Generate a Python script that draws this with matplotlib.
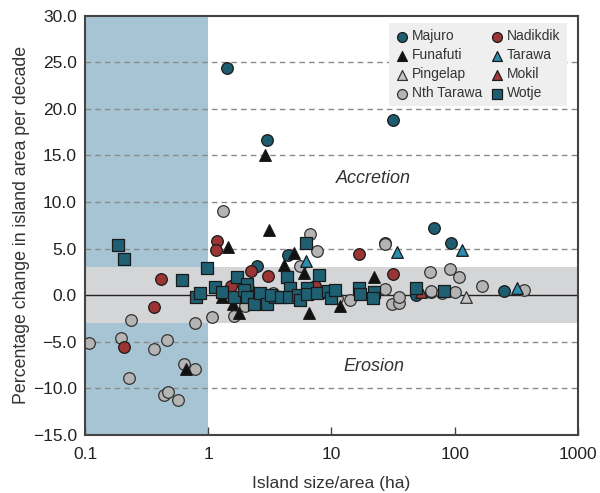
import matplotlib
matplotlib.use("Agg")
import matplotlib.pyplot as plt

plt.rcParams['font.family'] = ['Liberation Sans', 'DejaVu Sans']

# ---- data (island size in ha, % change per decade) ----
majuro_x = [1.42, 3.0, 31.5, 68, 93, 27, 251, 2.47, 4.47, 48.5, 64]
majuro_y = [24.4, 16.7, 18.8, 7.2, 5.6, 5.6, 0.4, 3.15, 4.3, 0.0, 0.3]

nadikdik_x = [1.17, 1.15, 0.41, 0.363, 0.205, 2.21, 3.03, 1.53, 16.8, 31.3, 7.3]
nadikdik_y = [5.8, 4.85, 1.7, -1.3, -5.6, 2.6, 2.1, 1.0, 4.4, 2.25, 1.0]

funafuti_x = [2.89, 3.13, 1.44, 4.99, 4.14, 5.98, 22.1, 6.6, 11.7, 1.6, 1.78, 1.28, 2.25, 8.6, 0.66]
funafuti_y = [15.05, 7.0, 5.2, 4.55, 3.2, 2.4, 1.9, -1.9, -1.2, -1.0, -1.9, -0.2, 0.7, 0.35, -7.9]

tarawa_x = [34.2, 115, 322, 6.2]
tarawa_y = [4.65, 4.9, 0.8, 3.65]

pingelap_x = [123]
pingelap_y = [-0.2]

mokil_x = [53]
mokil_y = [0.3]

nth_tarawa_x = [1.32, 0.235, 0.78, 1.08, 1.61, 1.98, 0.108, 0.197, 0.46, 0.363, 0.63, 0.78,
                0.226, 0.44, 0.47, 0.565, 3.33, 6.7, 7.6, 5.6, 14.1, 11.1, 27.2, 30.8, 27.3,
                35.3, 35.3, 63, 91.5, 109, 166, 64, 79, 100, 369]
nth_tarawa_y = [9.0, -2.7, -3.0, -2.4, -2.25, -1.2, -5.1, -4.55, -4.8, -5.8, -7.35, -7.9,
                -8.85, -10.75, -10.4, -11.3, 0.2, 6.6, 4.75, 3.15, -0.5, -0.35, 0.7, -1.0, 5.5,
                -0.8, -0.2, 2.5, 2.8, 2.0, 1.0, 0.45, 0.2, 0.35, 0.6]

wotje_x = [0.186, 0.206, 0.615, 0.98, 0.80, 0.86, 1.13, 1.29, 1.62, 1.70, 2.07, 1.96, 2.05,
           2.36, 2.63, 3.01, 3.48, 3.23, 3.89, 4.38, 4.58, 4.5, 5.32, 5.5, 6.3, 6.3, 6.2,
           7.96, 7.6, 9.4, 10.0, 10.7, 16.7, 17, 22.1, 21.7, 48.5, 81.8]
wotje_y = [5.4, 3.9, 1.6, 2.9, -0.2, 0.2, 0.9, 0.35, -0.2, 1.9, 1.2, 0.6, -0.2,
           -1.0, 0.2, -0.9, -0.2, 0.0, -0.2, 1.9, 0.8, -0.25, 0.0, -0.5, 0.8, 0.1, 5.55,
           2.2, 0.2, 0.45, -0.35, 0.55, 0.8, 0.1, 0.35, -0.3, 0.8, 0.4]

yticks = [30, 25, 20, 15, 10, 5, 0, -5, -10, -15]
xticks = [0.1, 1, 10, 100, 1000]
xticklabels = ['0.1', '1', '10', '100', '1000']

fig = plt.figure(figsize=(6.0, 4.93), dpi=100)
ax = fig.add_axes([0.142, 0.118, 0.821, 0.850])

ax.set_xscale('log')
ax.set_xlim(0.1, 1000)
ax.set_ylim(-15, 30)

# shading
ax.axvspan(0.1, 1, color='#a7c4d4', zorder=0, lw=0)
ax.axhspan(-3, 3, color='#d4d5d7', zorder=0.5, lw=0)
for yv in [25, 20, 15, 10, 5, -5, -10]:
    ax.axhline(yv, color='#8a8a8a', lw=1.0, ls=(0, (4, 3)), zorder=1)
ax.axhline(0, color='#222222', lw=1.0, zorder=1.2)

s = 70
ec = '#1a1a1a'
lw = 0.9
ax.scatter(majuro_x, majuro_y, s=s, marker='o', c='#1e5d70', edgecolors=ec, linewidths=lw, zorder=3, label='Majuro')
ax.scatter(nth_tarawa_x, nth_tarawa_y, s=s, marker='o', c='#b4b4b4', edgecolors='#333333', linewidths=lw, zorder=3.2, label='Nth Tarawa')
ax.scatter(nadikdik_x, nadikdik_y, s=s, marker='o', c='#9c3434', edgecolors=ec, linewidths=lw, zorder=3.3, label='Nadikdik')
ax.scatter(funafuti_x, funafuti_y, s=s, marker='^', c='#111111', edgecolors=ec, linewidths=lw, zorder=3.4, label='Funafuti')
ax.scatter(tarawa_x, tarawa_y, s=s, marker='^', c='#2a8daa', edgecolors=ec, linewidths=lw, zorder=3.5, label='Tarawa')
ax.scatter(pingelap_x, pingelap_y, s=s, marker='^', c='#c6c6c6', edgecolors='#333333', linewidths=lw, zorder=3.5, label='Pingelap')
ax.scatter(mokil_x, mokil_y, s=s, marker='^', c='#a33838', edgecolors=ec, linewidths=lw, zorder=3.6, label='Mokil')
ax.scatter(wotje_x, wotje_y, s=s*0.95, marker='s', c='#1e5f71', edgecolors=ec, linewidths=lw, zorder=3.7, label='Wotje')

ax.text(22, 12.5, 'Accretion', style='italic', fontsize=13, color='#333333', ha='center', va='center', zorder=2)
ax.text(22, -7.7, 'Erosion', style='italic', fontsize=13, color='#333333', ha='center', va='center', zorder=2)

ax.set_yticks(yticks)
ax.set_yticklabels([f'{v:.1f}'.replace('-', '\u2212') for v in yticks])
ax.set_xticks(xticks)
ax.set_xticklabels(xticklabels)
ax.xaxis.set_minor_locator(matplotlib.ticker.NullLocator())
ax.tick_params(axis='x', direction='in', length=6, width=1, colors='#444444', labelcolor='#222222', labelsize=12.5, pad=9)
ax.tick_params(axis='y', direction='in', length=0, labelcolor='#222222', labelsize=12.5, pad=6)

for sp in ax.spines.values():
    sp.set_color('#444444')
    sp.set_linewidth(1.5)
    sp.set_zorder(5)

ax.set_xlabel('Island size/area (ha)', fontsize=12.5, color='#333333', labelpad=10)
ax.set_ylabel('Percentage change in island area per decade', fontsize=12.8, color='#333333', labelpad=2)

order = ['Majuro', 'Funafuti', 'Pingelap', 'Nth Tarawa', 'Nadikdik', 'Tarawa', 'Mokil', 'Wotje']
handles, labels = ax.get_legend_handles_labels()
hmap = dict(zip(labels, handles))
leg = ax.legend([hmap[k] for k in order], order, ncol=2, loc='upper right',
                bbox_to_anchor=(0.978, 0.983), borderaxespad=0, fontsize=10, frameon=True,
                fancybox=False, handletextpad=0.3, columnspacing=0.6, labelspacing=0.36,
                borderpad=0.45, handlelength=0.9, markerscale=0.85)
leg.get_frame().set_facecolor('#efefef')
leg.get_frame().set_edgecolor('none')
leg.get_frame().set_alpha(1)
for t in leg.get_texts():
    t.set_color('#333333')

fig.savefig('out.png', dpi=100)
